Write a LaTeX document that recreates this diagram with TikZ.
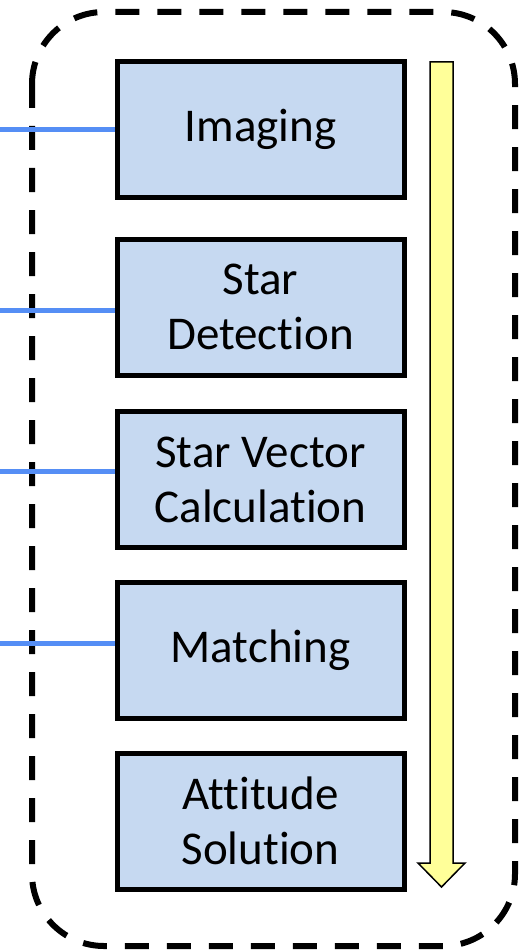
\documentclass[tikz,border=0pt]{standalone}
\usepackage{fontspec}
\setmainfont{Carlito}[Ligatures=NoCommon,RawFeature=-liga]
\definecolor{stagefill}{RGB}{198,217,241}
\definecolor{linkblue}{RGB}{85,142,245}
\definecolor{flowyellow}{RGB}{255,255,153}
\begin{document}
\begin{tikzpicture}[x=1pt,y=-1pt,
  stage/.style={draw=black, fill=stagefill, line width=5pt, rectangle,
    minimum width=287pt, minimum height=136pt, inner sep=0pt, align=center,
    font=\fontsize{47}{55}\selectfont},
  link/.style={draw=linkblue, line width=5pt},
  frame/.style={draw=black, line width=6pt, dash pattern=on 24pt off 18pt, rounded corners=72pt}]
\useasboundingbox (0,0) rectangle (524,952);

% dashed enclosure
\draw[frame] (32,12) rectangle (515,946);

% processing stages
\node[stage] (b1) at (260.5,129.5) {Imaging};
\node[stage] (b2) at (260.5,307) {Star\\Detection};
\node[stage] (b3) at (260.5,479.5) {Star Vector\\Calculation};
\node[stage] (b4) at (260.5,650) {Matching};
\node[stage] (b5) at (260.5,821) {Attitude\\Solution};

% incoming links
\coordinate (l1) at (0,130);
\coordinate (l2) at (0,310);
\coordinate (l3) at (0,471);
\coordinate (l4) at (0,643);
\draw[link] (l1) -- (l1 -| b1.west);
\draw[link] (l2) -- (l2 -| b2.west);
\draw[link] (l3) -- (l3 -| b3.west);
\draw[link] (l4) -- (l4 -| b4.west);

% flow arrow
\draw[fill=flowyellow, draw=black, line width=1.5pt, line join=miter]
  (430,62) -- (453,62) -- (453,863) -- (465,863) -- (441.5,887)
  -- (418,863) -- (430,863) -- cycle;
\end{tikzpicture}
\end{document}
